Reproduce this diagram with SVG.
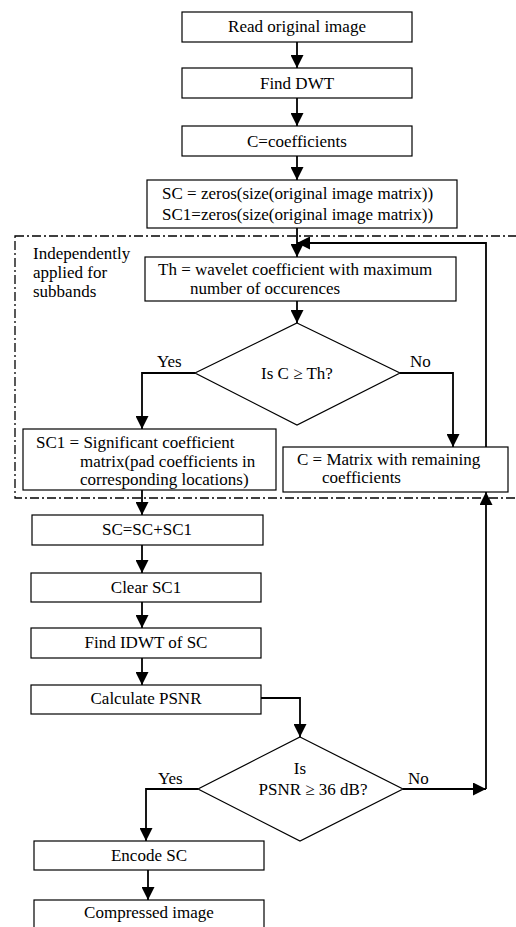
<svg xmlns="http://www.w3.org/2000/svg" width="516" height="927" viewBox="0 0 516 927">
<style>
.box{fill:#fff;stroke:#000;stroke-width:1.2}
.t{font-family:'Liberation Serif','Times New Roman',Tinos,'DejaVu Serif',serif;font-size:17px;fill:#000}
.c{text-anchor:middle}
.ln{fill:none;stroke:#000;stroke-width:1.8}
.dash{fill:none;stroke:#000;stroke-width:1.3;stroke-dasharray:9 3 2 3}
</style>
<defs>
<marker id="ah" markerUnits="userSpaceOnUse" markerWidth="13" markerHeight="13" viewBox="0 0 13 13" refX="13" refY="6.5" orient="auto">
<path d="M0,0 L13,6.5 L0,13 Z" fill="#000"/>
</marker>
</defs>
<rect class="dash" x="15" y="236" width="510" height="262"/>
<g id="connectors">
<line class="ln" x1="297" y1="42" x2="297" y2="68" marker-end="url(#ah)"/>
<line class="ln" x1="297" y1="98" x2="297" y2="126" marker-end="url(#ah)"/>
<line class="ln" x1="297" y1="156" x2="297" y2="180" marker-end="url(#ah)"/>
<line class="ln" x1="297" y1="228" x2="297" y2="257" marker-end="url(#ah)"/>
<line class="ln" x1="297" y1="301" x2="297" y2="323" marker-end="url(#ah)"/>
<polyline class="ln" points="195,373 142,373 142,429" marker-end="url(#ah)"/>
<polyline class="ln" points="400,373 453,373 453,447" marker-end="url(#ah)"/>
<polyline class="ln" points="486,447 486,243 297,243" marker-end="url(#ah)"/>
<line class="ln" x1="142" y1="490" x2="142" y2="515" marker-end="url(#ah)"/>
<line class="ln" x1="142" y1="545" x2="142" y2="573" marker-end="url(#ah)"/>
<line class="ln" x1="142" y1="602" x2="142" y2="628" marker-end="url(#ah)"/>
<line class="ln" x1="142" y1="658" x2="142" y2="685" marker-end="url(#ah)"/>
<polyline class="ln" points="261,698 300,698 300,737" marker-end="url(#ah)"/>
<polyline class="ln" points="198,789 146,789 146,841" marker-end="url(#ah)"/>
<line class="ln" x1="403" y1="789" x2="486" y2="789" marker-end="url(#ah)"/>
<line class="ln" x1="486" y1="789" x2="486" y2="492" marker-end="url(#ah)"/>
<line class="ln" x1="148" y1="870" x2="148" y2="900" marker-end="url(#ah)"/>
</g>
<g id="n1"><rect class="box" x="182" y="12" width="230" height="30"/><text class="t c" x="297" y="32">Read original image</text></g>
<g id="n2"><rect class="box" x="182" y="68" width="230" height="30"/><text class="t c" x="297" y="89">Find DWT</text></g>
<g id="n3"><rect class="box" x="182" y="126" width="230" height="30"/><text class="t c" x="297" y="147">C=coefficients</text></g>
<g id="n4"><rect class="box" x="147" y="180" width="310" height="48"/><text class="t" x="162" y="199">SC = zeros(size(original image matrix))</text><text class="t" x="162" y="220">SC1=zeros(size(original image matrix))</text></g>
<g id="label"><text class="t" x="33" y="259">Independently</text><text class="t" x="33" y="278">applied for</text><text class="t" x="33" y="297">subbands</text></g>
<g id="n5"><rect class="box" x="145" y="257" width="311" height="44"/><text class="t" x="158" y="275">Th = wavelet coefficient with maximum</text><text class="t" x="190" y="294">number of occurences</text></g>
<g id="d1"><polygon class="box" points="297,323 400,373 297,425 195,373"/><text class="t c" x="297" y="379">Is C ≥ Th?</text></g>
<text class="t" x="157" y="367">Yes</text>
<text class="t" x="410" y="367">No</text>
<g id="n6"><rect class="box" x="23" y="429" width="253" height="61"/><text class="t" x="36" y="448">SC1 = Significant coefficient</text><text class="t" x="80" y="467">matrix(pad coefficients in</text><text class="t" x="80" y="485">corresponding locations)</text></g>
<g id="n7"><rect class="box" x="283" y="447" width="225" height="45"/><text class="t" x="297" y="465">C = Matrix with remaining</text><text class="t" x="322" y="483">coefficients</text></g>
<g id="n8"><rect class="box" x="32" y="515" width="231" height="30"/><text class="t c" x="147" y="535">SC=SC+SC1</text></g>
<g id="n9"><rect class="box" x="31" y="573" width="230" height="29"/><text class="t c" x="146" y="593">Clear SC1</text></g>
<g id="n10"><rect class="box" x="31" y="628" width="230" height="30"/><text class="t c" x="146" y="648">Find IDWT of SC</text></g>
<g id="n11"><rect class="box" x="31" y="685" width="230" height="29"/><text class="t c" x="146" y="704">Calculate PSNR</text></g>
<g id="d2"><polygon class="box" points="300,737 403,789 300,841 198,789"/><text class="t c" x="300" y="774">Is</text><text class="t c" x="313" y="795">PSNR ≥ 36 dB?</text></g>
<text class="t" x="158" y="784">Yes</text>
<text class="t" x="408" y="784">No</text>
<g id="n12"><rect class="box" x="34" y="841" width="230" height="29"/><text class="t c" x="149" y="861">Encode SC</text></g>
<g id="n13"><rect class="box" x="34" y="900" width="230" height="40"/><text class="t c" x="149" y="918">Compressed image</text></g>
</svg>
